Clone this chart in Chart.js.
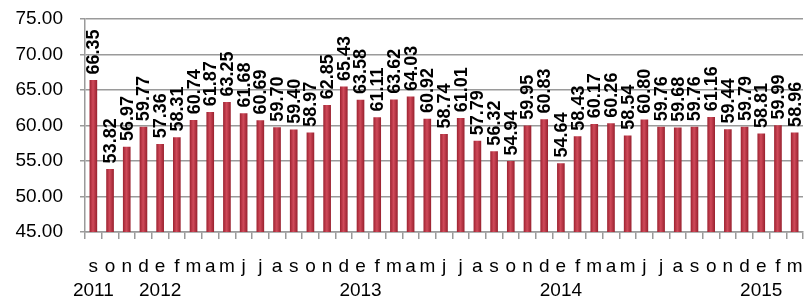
<!DOCTYPE html>
<html>
<head>
<meta charset="utf-8">
<script src="https://cdn.jsdelivr.net/npm/chart.js@4/dist/chart.umd.min.js"></script>
<style>
  html, body { margin: 0; padding: 0; background: #fff; }
  #wrap { width: 804px; height: 301px; }
</style>
</head>
<body>
<div id="wrap"><canvas id="barChart" width="804" height="301"></canvas></div>
<script>
// data: Sep 2011 .. Mar 2015
var months = ['s','o','n','d',
  'e','f','m','a','m','j','j','a','s','o','n','d',
  'e','f','m','a','m','j','j','a','s','o','n','d',
  'e','f','m','a','m','j','j','a','s','o','n','d',
  'e','f','m'];
var years = {0: '2011', 4: '2012', 16: '2013', 28: '2014', 40: '2015'};
var values = [66.35, 53.82, 56.97, 59.77,
  57.36, 58.31, 60.74, 61.87, 63.25, 61.68, 60.69, 59.70, 59.40, 58.97, 62.85, 65.43,
  63.58, 61.11, 63.62, 64.03, 60.92, 58.74, 61.01, 57.79, 56.32, 54.94, 59.95, 60.83,
  54.64, 58.43, 60.17, 60.26, 58.54, 60.80, 59.76, 59.68, 59.76, 61.16, 59.44, 59.79,
  58.81, 59.99, 58.96];
var yTicks = [45, 50, 55, 60, 65, 70, 75];

var FONT = "'Liberation Sans', Arial, sans-serif";
var BAR_W = 7;

var labels = months.map(function (m, i) {
  return [m, years[i] || ''];
});

// cylinder-like shading, placed with the x scale
function barFill(context) {
  var chart = context.chart;
  var xs = chart.scales.x;
  if (!xs || context.dataIndex === undefined) return '#b8323f';
  var cx = xs.getPixelForValue(context.dataIndex);
  if (!isFinite(cx)) return '#b8323f';
  var g = chart.ctx.createLinearGradient(cx - BAR_W / 2, 0, cx + BAR_W / 2, 0);
  g.addColorStop(0, '#a12634');
  g.addColorStop(0.45, '#d04a5a');
  g.addColorStop(1, '#9c2331');
  return g;
}

// rotated value labels above each bar
var valueLabels = {
  id: 'valueLabels',
  afterDatasetsDraw: function (chart) {
    var ctx = chart.ctx;
    var meta = chart.getDatasetMeta(0);
    ctx.save();
    ctx.font = 'bold 18px ' + FONT;
    ctx.fillStyle = '#000';
    ctx.textAlign = 'left';
    ctx.textBaseline = 'middle';
    meta.data.forEach(function (bar, i) {
      ctx.save();
      ctx.translate(bar.x + 1, bar.y - 6);
      ctx.rotate(-Math.PI / 2);
      ctx.fillText(values[i].toFixed(2), 0, 0);
      ctx.restore();
    });
    ctx.restore();
  }
};

var ctx1 = document.getElementById('barChart').getContext('2d');
var barChart = new Chart(ctx1, {
  type: 'bar',
  data: {
    labels: labels,
    datasets: [{
      data: values,
      backgroundColor: barFill,
      borderWidth: 0,
      barThickness: BAR_W
    }]
  },
  options: {
    responsive: false,
    animation: false,
    layout: { padding: { top: 19, right: 1, left: 0, bottom: 0 } },
    plugins: {
      legend: { display: false },
      tooltip: { enabled: false }
    },
    scales: {
      x: {
        grid: {
          drawOnChartArea: false,
          drawTicks: true,
          tickLength: 7,
          color: '#9a9a9a',
          lineWidth: 1.5
        },
        border: { color: '#9a9a9a', width: 1.5 },
        ticks: {
          autoSkip: false,
          maxRotation: 0,
          minRotation: 0,
          padding: 15,
          color: '#000',
          font: { family: FONT, size: 19, lineHeight: 1.3 }
        },
        afterFit: function (scale) {
          scale.height = 69;
          scale.paddingLeft = 0;
          scale.paddingRight = 0;
        }
      },
      y: {
        min: 45,
        max: 75,
        afterBuildTicks: function (scale) {
          scale.ticks = yTicks.map(function (v) { return { value: v }; });
        },
        grid: {
          color: '#9a9a9a',
          lineWidth: 1.5,
          tickLength: 5
        },
        border: { color: '#9a9a9a', width: 1.5 },
        ticks: {
          padding: 17,
          color: '#000',
          font: { family: FONT, size: 19 },
          callback: function (v) { return Number(v).toFixed(2); }
        },
        afterFit: function (scale) {
          scale.width = 85;
          scale.paddingTop = 0;
          scale.paddingBottom = 0;
        }
      }
    }
  },
  plugins: [valueLabels]
});
</script>
</body>
</html>
